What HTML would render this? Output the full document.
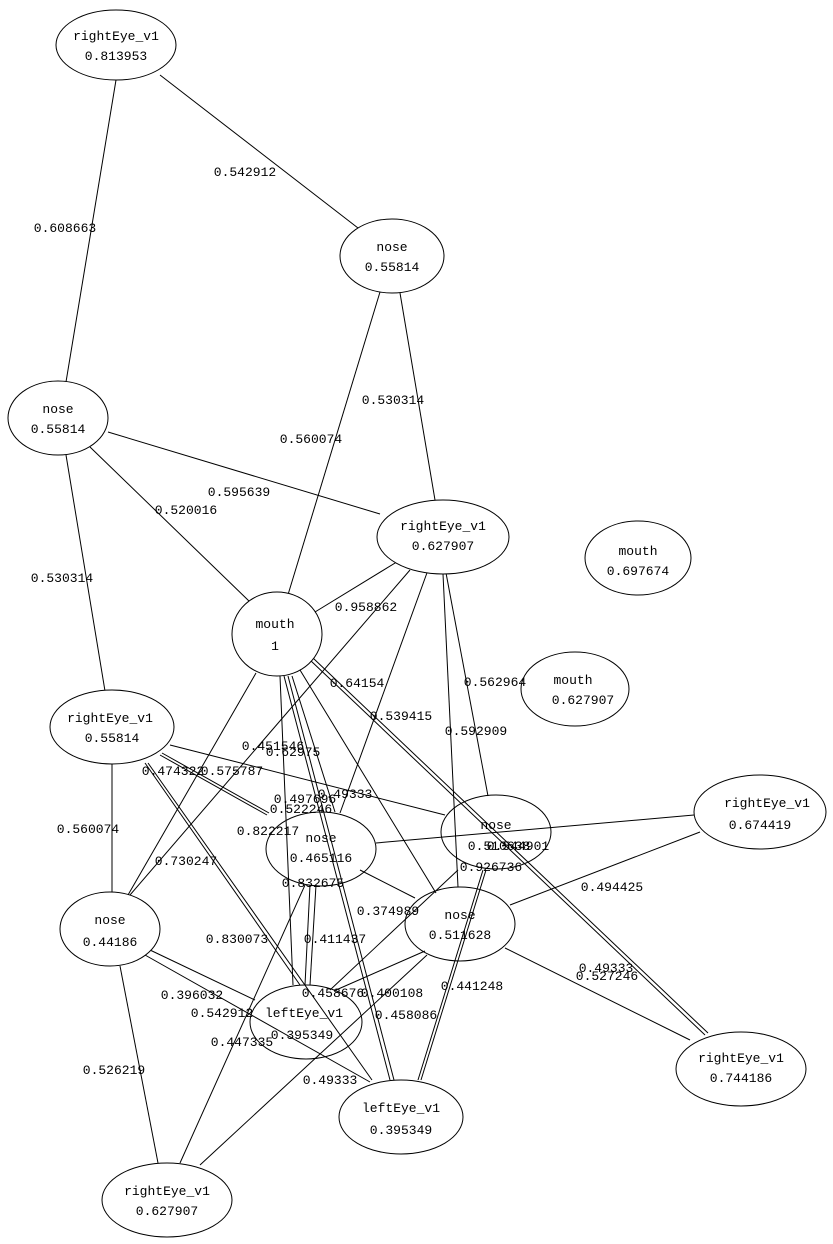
<!DOCTYPE html>
<html><head><meta charset="utf-8"><style>
html,body{margin:0;padding:0;background:#fff;}
svg{display:block;}
text{font-family:"Liberation Mono",monospace;font-size:13px;fill:#000;}
</style></head><body>
<svg width="833" height="1244" viewBox="0 0 833 1244" xmlns="http://www.w3.org/2000/svg">
<g stroke="#000" stroke-width="1" fill="none">
<line x1="116" y1="80" x2="66" y2="382"/>
<line x1="160" y1="75" x2="358" y2="228"/>
<line x1="380" y1="292" x2="287" y2="598"/>
<line x1="400" y1="293" x2="435" y2="500"/>
<line x1="108" y1="432" x2="380" y2="514"/>
<line x1="90" y1="447" x2="250" y2="602"/>
<line x1="66" y1="455" x2="105" y2="691"/>
<line x1="315" y1="612" x2="400" y2="560"/>
<line x1="410" y1="570" x2="130" y2="895"/>
<line x1="256" y1="673" x2="128" y2="895"/>
<line x1="428" y1="570" x2="340" y2="813"/>
<line x1="443" y1="574" x2="458" y2="887"/>
<line x1="446" y1="573" x2="488" y2="796"/>
<line x1="280" y1="676" x2="293" y2="985"/>
<line x1="284" y1="676" x2="390" y2="1080"/>
<line x1="288" y1="676" x2="394" y2="1080"/>
<line x1="292" y1="676" x2="335" y2="812"/>
<line x1="300" y1="670" x2="436" y2="893"/>
<line x1="310" y1="660" x2="705" y2="1035"/>
<line x1="313" y1="658" x2="708" y2="1033"/>
<line x1="170" y1="745" x2="445" y2="815"/>
<line x1="160" y1="755" x2="267" y2="815"/>
<line x1="162" y1="753" x2="269" y2="813"/>
<line x1="145" y1="763" x2="300" y2="985"/>
<line x1="148" y1="763" x2="372" y2="1080"/>
<line x1="112" y1="764" x2="112" y2="892"/>
<line x1="376" y1="843" x2="694" y2="815"/>
<line x1="700" y1="832" x2="510" y2="905"/>
<line x1="360" y1="870" x2="415" y2="898"/>
<line x1="310" y1="885" x2="305" y2="985"/>
<line x1="316" y1="885" x2="310" y2="985"/>
<line x1="150" y1="950" x2="255" y2="1000"/>
<line x1="145" y1="955" x2="370" y2="1082"/>
<line x1="120" y1="966" x2="158" y2="1163"/>
<line x1="305" y1="885" x2="180" y2="1163"/>
<line x1="427" y1="955" x2="200" y2="1165"/>
<line x1="425" y1="951" x2="336" y2="990"/>
<line x1="483" y1="870" x2="418" y2="1080"/>
<line x1="486" y1="870" x2="421" y2="1080"/>
<line x1="505" y1="948" x2="690" y2="1040"/>
<line x1="458" y1="870" x2="330" y2="990"/>
</g>
<g stroke="#000" stroke-width="1" fill="#fff">
<ellipse cx="116" cy="45" rx="60" ry="35"/>
<ellipse cx="392" cy="256" rx="52" ry="37"/>
<ellipse cx="58" cy="418" rx="50" ry="37"/>
<ellipse cx="443" cy="537" rx="66" ry="37"/>
<ellipse cx="638" cy="558" rx="53" ry="37"/>
<ellipse cx="277" cy="634" rx="45" ry="42"/>
<ellipse cx="575" cy="689" rx="54" ry="37"/>
<ellipse cx="112" cy="727" rx="62" ry="37"/>
<ellipse cx="760" cy="812" rx="66" ry="37"/>
<ellipse cx="110" cy="929" rx="50" ry="37"/>
<ellipse cx="401" cy="1117" rx="62" ry="37"/>
<ellipse cx="741" cy="1069" rx="65" ry="37"/>
<ellipse cx="167" cy="1200" rx="65" ry="37"/>
</g>
<g stroke="#000" stroke-width="1" fill="none">
<ellipse cx="496" cy="832" rx="55" ry="37"/>
<ellipse cx="321" cy="849" rx="55" ry="37"/>
<ellipse cx="460" cy="924" rx="55" ry="37"/>
<ellipse cx="306" cy="1022" rx="56" ry="37"/>
</g>
<g text-anchor="middle">
<text x="116" y="40">rightEye_v1</text><text x="116" y="60">0.813953</text>
<text x="392" y="251">nose</text><text x="392" y="271">0.55814</text>
<text x="58" y="413">nose</text><text x="58" y="433">0.55814</text>
<text x="443" y="530">rightEye_v1</text><text x="443" y="550">0.627907</text>
<text x="638" y="555">mouth</text><text x="638" y="575">0.697674</text>
<text x="275" y="628">mouth</text><text x="275" y="650">1</text>
<text x="573" y="684">mouth</text><text x="583" y="704">0.627907</text>
<text x="110" y="722">rightEye_v1</text><text x="112" y="742">0.55814</text>
<text x="767" y="807">rightEye_v1</text><text x="760" y="829">0.674419</text>
<text x="496" y="829">nose</text><text x="499" y="850">0.510638</text>
<text x="321" y="842">nose</text><text x="321" y="862">0.465116</text>
<text x="110" y="924">nose</text><text x="110" y="946">0.44186</text>
<text x="460" y="919">nose</text><text x="460" y="939">0.511628</text>
<text x="304" y="1017">leftEye_v1</text><text x="302" y="1039">0.395349</text>
<text x="401" y="1112">leftEye_v1</text><text x="401" y="1134">0.395349</text>
<text x="741" y="1062">rightEye_v1</text><text x="741" y="1082">0.744186</text>
<text x="167" y="1195">rightEye_v1</text><text x="167" y="1215">0.627907</text>
</g>
<g text-anchor="middle">
<text x="65" y="232">0.608663</text>
<text x="245" y="176">0.542912</text>
<text x="311" y="443">0.560074</text>
<text x="393" y="404">0.530314</text>
<text x="239" y="496">0.595639</text>
<text x="186" y="514">0.520016</text>
<text x="62" y="582">0.530314</text>
<text x="366" y="611">0.958862</text>
<text x="357" y="687">0.64154</text>
<text x="495" y="686">0.562964</text>
<text x="401" y="720">0.539415</text>
<text x="476" y="735">0.592909</text>
<text x="273" y="750">0.451546</text>
<text x="293" y="756">0.62975</text>
<text x="173" y="775">0.474322</text>
<text x="232" y="775">0.575787</text>
<text x="345" y="798">0.49333</text>
<text x="305" y="803">0.497696</text>
<text x="301" y="813">0.522246</text>
<text x="268" y="835">0.822217</text>
<text x="518" y="850">0.544901</text>
<text x="491" y="871">0.926736</text>
<text x="313" y="887">0.832675</text>
<text x="186" y="865">0.730247</text>
<text x="88" y="833">0.560074</text>
<text x="612" y="891">0.494425</text>
<text x="388" y="915">0.374989</text>
<text x="237" y="943">0.830073</text>
<text x="335" y="943">0.411437</text>
<text x="472" y="990">0.441248</text>
<text x="606" y="972">0.49333</text>
<text x="607" y="980">0.527246</text>
<text x="192" y="999">0.396032</text>
<text x="333" y="997">0.458676</text>
<text x="392" y="997">0.400108</text>
<text x="222" y="1017">0.542912</text>
<text x="406" y="1019">0.458086</text>
<text x="242" y="1046">0.447335</text>
<text x="330" y="1084">0.49333</text>
<text x="114" y="1074">0.526219</text>
</g>
</svg>
</body></html>
